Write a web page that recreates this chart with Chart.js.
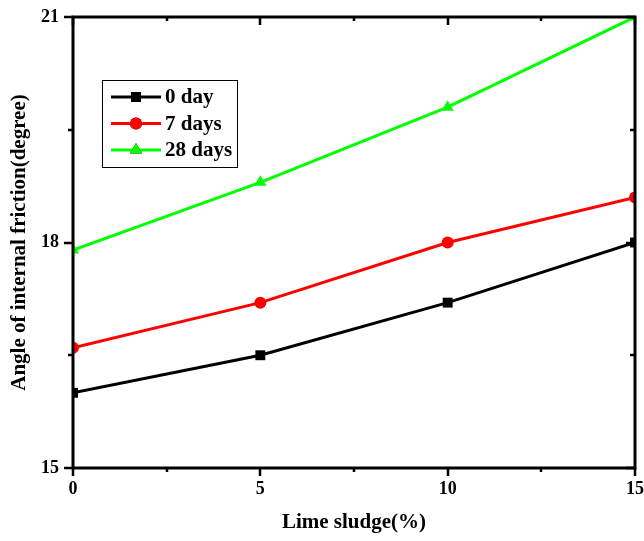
<!DOCTYPE html>
<html>
<head>
<meta charset="utf-8">
<script src="https://cdn.jsdelivr.net/npm/chart.js@4.4.0/dist/chart.umd.min.js"></script>
<style>
  html, body { margin: 0; padding: 0; background: #fff; }
  #wrap { width: 644px; height: 541px; }
</style>
</head>
<body>
<div id="wrap"><canvas id="frictionChart" width="644" height="541"></canvas></div>
<script>
// lime sludge content (%)
const limeSludge = [0, 5, 10, 15];

// angle of internal friction (degree) for each curing period
const day0 = [16.0, 16.5, 17.2, 18.0];
const days7 = [16.6, 17.2, 18.0, 18.6];
const days28 = [17.9, 18.8, 19.8, 21.0];

const seriesNames = ["0 day", "7 days", "28 days"];

const xTicks = [0, 5, 10, 15];
const yTicks = [15, 18, 21];

const FONT = "'Liberation Serif', 'Times New Roman', serif";

// box around the plot and the major/minor ticks (out on left/bottom, in on top/right)
const framePlugin = {
    id: "frame",
    afterDatasetsDraw(chart) {
        const ctx = chart.ctx;
        const a = chart.chartArea;
        const xs = chart.scales.x;
        const ys = chart.scales.y;
        ctx.save();
        ctx.strokeStyle = "#000";
        ctx.lineWidth = 2.5;
        ctx.lineCap = "butt";

        const xMinor = [];
        for (let i = 0; i < xTicks.length - 1; i++) xMinor.push((xTicks[i] + xTicks[i + 1]) / 2);
        const yMinor = [];
        for (let i = 0; i < yTicks.length - 1; i++) yMinor.push((yTicks[i] + yTicks[i + 1]) / 2);

        function tickX(v, len) {
            const px = Math.round(xs.getPixelForValue(v));
            ctx.beginPath();
            ctx.moveTo(px, a.bottom);
            ctx.lineTo(px, a.bottom + len);
            ctx.moveTo(px, a.top);
            ctx.lineTo(px, a.top + len);
            ctx.stroke();
        }
        function tickY(v, len) {
            const py = Math.round(ys.getPixelForValue(v));
            ctx.beginPath();
            ctx.moveTo(a.left, py);
            ctx.lineTo(a.left - len, py);
            ctx.moveTo(a.right, py);
            ctx.lineTo(a.right - len, py);
            ctx.stroke();
        }
        xTicks.forEach(v => tickX(v, 8));
        xMinor.forEach(v => tickX(v, 4));
        yTicks.forEach(v => tickY(v, 9));
        yMinor.forEach(v => tickY(v, 5));

        ctx.lineWidth = 3;
        ctx.strokeRect(a.left, a.top, a.right - a.left, a.bottom - a.top);
        ctx.restore();
    }
};

// legend box drawn inside the plot, built from the datasets
const boxLegendPlugin = {
    id: "boxLegend",
    afterDraw(chart) {
        const ctx = chart.ctx;
        const a = chart.chartArea;
        const left = a.left + 29, top = a.top + 63;
        const w = 135, h = 87;
        ctx.save();
        ctx.strokeStyle = "#000";
        ctx.lineWidth = 1;
        ctx.strokeRect(left + 0.5, top + 0.5, w, h);
        ctx.font = "bold 21px " + FONT;
        ctx.textBaseline = "middle";
        chart.data.datasets.forEach((ds, i) => {
            const y = top + 17 + i * 26.5;
            const x0 = left + 9, x1 = left + 59;
            ctx.strokeStyle = ds.borderColor;
            ctx.lineWidth = 3;
            ctx.beginPath();
            ctx.moveTo(x0, y);
            ctx.lineTo(x1, y);
            ctx.stroke();
            Chart.helpers.drawPoint(ctx, {
                pointStyle: ds.pointStyle,
                radius: ds.pointRadius,
                borderWidth: 0
            }, (x0 + x1) / 2, y);
            ctx.fillStyle = ds.pointBackgroundColor;
            ctx.fill();
            ctx.fillStyle = "#000";
            ctx.fillText(ds.label, x1 + 4, y + 1);
        });
        ctx.restore();
    }
};

function makeSet(label, values, color, style, radius) {
    return {
        label: label,
        data: limeSludge.map((x, i) => ({ x: x, y: values[i] })),
        borderColor: color,
        backgroundColor: color,
        pointBackgroundColor: color,
        pointBorderColor: color,
        pointBorderWidth: 0,
        pointStyle: style,
        pointRadius: radius,
        borderWidth: 3,
        tension: 0
    };
}

const ctx = document.getElementById("frictionChart").getContext("2d");
new Chart(ctx, {
    type: "line",
    data: {
        datasets: [
            makeSet(seriesNames[0], day0, "#000000", "rect", 7),
            makeSet(seriesNames[1], days7, "#ff0000", "circle", 6),
            makeSet(seriesNames[2], days28, "#00ff00", "triangle", 7)
        ]
    },
    options: {
        responsive: false,
        animation: false,
        devicePixelRatio: 1,
        layout: { padding: { top: 17, right: 9, left: 0, bottom: 0 } },
        plugins: {
            legend: { display: false },
            tooltip: { enabled: false }
        },
        scales: {
            x: {
                type: "linear",
                min: 0,
                max: 15,
                afterBuildTicks: s => { s.ticks = xTicks.map(v => ({ value: v })); },
                afterFit: s => { s.height = 73; },
                grid: { drawOnChartArea: false, drawTicks: true, tickLength: 11, tickColor: "rgba(0,0,0,0)" },
                border: { display: false },
                ticks: {
                    color: "#000",
                    padding: 0,
                    maxRotation: 0,
                    font: { family: FONT, size: 18, weight: "bold" }
                },
                title: {
                    display: true,
                    text: "Lime sludge(%)",
                    color: "#000",
                    padding: { top: 6, bottom: 6 },
                    font: { family: FONT, size: 21, weight: "bold" }
                }
            },
            y: {
                type: "linear",
                min: 15,
                max: 21,
                afterBuildTicks: s => { s.ticks = yTicks.map(v => ({ value: v })); },
                afterFit: s => { s.width = 73; },
                grid: { drawOnChartArea: false, drawTicks: true, tickLength: 9, tickColor: "rgba(0,0,0,0)" },
                border: { display: false },
                ticks: {
                    color: "#000",
                    padding: 5,
                    font: { family: FONT, size: 18, weight: "bold" }
                },
                title: {
                    display: true,
                    text: "Angle of internal friction(degree)",
                    color: "#000",
                    padding: { top: 7, bottom: 4 },
                    font: { family: FONT, size: 21, weight: "bold" }
                }
            }
        }
    },
    plugins: [framePlugin, boxLegendPlugin]
});
</script>
</body>
</html>
